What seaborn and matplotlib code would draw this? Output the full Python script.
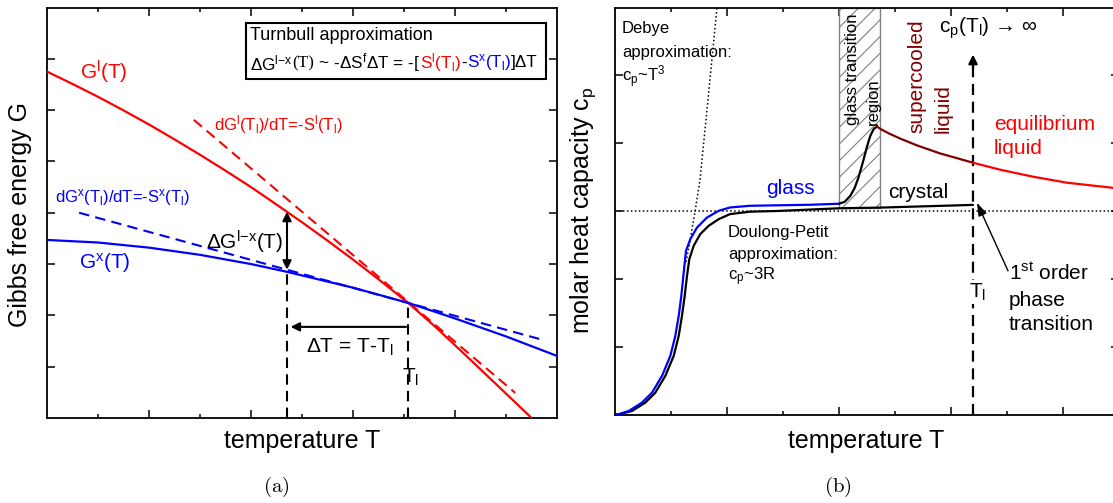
import matplotlib
matplotlib.use("Agg")
import matplotlib.pyplot as plt
import seaborn as sns
from matplotlib.patches import Rectangle

# ---------------- data: panel (a) Gibbs free energy ----------------
T_a_liq = [0, 0.5, 1, 1.5, 2, 2.5, 3, 3.5, 4, 4.5, 5, 5.5, 6, 6.5, 7.08, 7.6, 8.1, 8.8, 9.55]
G_liq = [6.75, 6.51, 6.26, 5.995, 5.72, 5.43, 5.13, 4.82, 4.50, 4.16, 3.815, 3.457, 3.087, 2.704,
         2.244, 1.79, 1.325, 0.665, -0.045]
T_a_cry = [0, 1, 2, 3, 4, 4.7, 6, 7.08, 8, 9, 10]
G_cry = [3.47, 3.42, 3.32, 3.18, 3.00, 2.85, 2.54, 2.244, 1.94, 1.59, 1.21]
T_tan_liq = [2.88, 9.18]
G_tan_liq = [5.81, 0.49]
T_tan_cry = [0.63, 9.73]
G_tan_cry = [4.00, 1.52]
T_under, G_under_liq, G_under_cry = 4.706, 4.02, 2.89
T_melt_a, G_melt = 7.08, 2.244
G_dT_arrow = 1.776

# ---------------- data: panel (b) heat capacity ----------------
T_cry = [0, 0.066, 0.304, 0.541, 0.72, 0.898, 1.048, 1.138, 1.196, 1.245, 1.286, 1.327, 1.405,
         1.523, 1.673, 1.852, 2.054, 2.411, 2.893, 4.0, 4.73, 6.393]
cp_cry = [0, 0.003, 0.052, 0.175, 0.322, 0.568, 0.864, 1.159, 1.454, 1.749, 2.044, 2.29, 2.487,
          2.66, 2.782, 2.88, 2.954, 2.99, 3.0, 3.04, 3.05, 3.09]
T_gla = [0, 0.066, 0.245, 0.482, 0.661, 0.839, 0.988, 1.077, 1.138, 1.184, 1.227, 1.268, 1.345,
         1.464, 1.643, 1.852, 2.054, 2.411, 3.482, 4.0]
cp_gla = [0, 0.003, 0.052, 0.175, 0.322, 0.568, 0.864, 1.159, 1.454, 1.749, 2.093, 2.413, 2.585,
          2.756, 2.904, 3.003, 3.052, 3.077, 3.092, 3.107]
T_gt = [4.0, 4.1, 4.2, 4.28, 4.35, 4.43, 4.5, 4.56, 4.62, 4.679]
cp_gt = [3.107, 3.135, 3.22, 3.34, 3.50, 3.73, 3.95, 4.11, 4.21, 4.244]
T_sc = [4.679, 4.75, 4.9, 5.1, 5.4, 5.8, 6.393]
cp_sc = [4.244, 4.205, 4.14, 4.065, 3.965, 3.85, 3.712]
T_eq = [6.393, 6.875, 7.464, 8.071, 8.875, 9.0]
cp_eq = [3.712, 3.609, 3.506, 3.417, 3.343, 3.33]
T_debye = [1.268, 1.321, 1.429, 1.518, 1.661, 1.821, 1.84]
cp_debye = [2.25, 2.472, 2.989, 3.461, 4.642, 6.0, 6.2]
cp_dp = 3.0
T_glass_lo, T_glass_hi, cp_glass_bottom = 4.0, 4.73, 3.05
T_melt_b, cp_arrow_top = 6.393, 5.306
arrow_1st = [(7.018, 2.118), (6.464, 3.122)]

# ---------------- style ----------------
sns.set_theme(style="ticks")
plt.rcParams["font.family"] = ["Liberation Sans", "DejaVu Sans"]
plt.rcParams["mathtext.fontset"] = "custom"
plt.rcParams["mathtext.rm"] = "Liberation Sans"
plt.rcParams["mathtext.it"] = "Liberation Sans:italic"
plt.rcParams["mathtext.bf"] = "Liberation Sans:bold"
plt.rcParams["hatch.color"] = "#9a9a9a"
plt.rcParams["hatch.linewidth"] = 0.8
plt.rcParams["axes.unicode_minus"] = False
plt.rcParams["text.color"] = "black"

W, H = 1113, 503
fig = plt.figure(figsize=(W / 100, H / 100), dpi=100)
fig.patch.set_facecolor("white")


def rect(l, t, r, b):
    return [l / W, 1 - b / H, (r - l) / W, (b - t) / H]


ax1 = fig.add_axes(rect(47, 7.5, 557, 418))
ax2 = fig.add_axes(rect(615, 7.5, 1119, 414.5))

RED, BLUE, DRED = "#ff0000", "#0000ff", "#800000"
DASH = (5, 3)


def curve(ax, x, y, color, lw=1.6, dashes=None, z=3):
    sns.lineplot(x=x, y=y, ax=ax, color=color, lw=lw, sort=False, estimator=None, zorder=z)
    ln = ax.get_lines()[-1]
    if dashes is not None:
        ln.set_dashes(dashes)
    return ln


def ftext(px, py, s, **kw):
    kw.setdefault("ha", "left")
    kw.setdefault("va", "center")
    kw.setdefault("color", "black")
    return fig.text(px / W, 1 - py / H, s, **kw)


for ax in (ax1, ax2):
    for sp in ax.spines.values():
        sp.set_linewidth(1.3)
        sp.set_color("black")
    ax.tick_params(which="both", direction="in", top=True, right=True,
                   labelbottom=False, labelleft=False, color="black")
    ax.tick_params(which="major", length=6, width=1.1)
    ax.tick_params(which="minor", length=3.2, width=1.1)
    ax.set_facecolor("white")

# ---------------- panel (a) ----------------
ax1.set_xlim(0, 10)
ax1.set_ylim(0, 8)
ax1.set_xticks([2, 4, 6, 8])
ax1.set_xticks([1, 3, 5, 7, 9], minor=True)
ax1.set_yticks([1, 2, 3, 4, 5, 6, 7])

curve(ax1, T_tan_liq, G_tan_liq, RED, lw=1.5, dashes=DASH, z=2)
curve(ax1, T_tan_cry, G_tan_cry, BLUE, lw=1.5, dashes=DASH, z=2)
curve(ax1, T_a_liq, G_liq, RED, lw=1.6)
curve(ax1, T_a_cry, G_cry, BLUE, lw=1.6)
curve(ax1, [T_under, T_under], [0, G_under_cry], "black", lw=1.5, dashes=DASH)
curve(ax1, [T_melt_a, T_melt_a], [0, G_melt], "black", lw=1.5, dashes=DASH)
ax1.annotate("", xy=(T_under, G_under_liq), xytext=(T_under, G_under_cry),
             arrowprops=dict(arrowstyle="<|-|>", color="black", lw=1.5,
                             shrinkA=0, shrinkB=0, mutation_scale=13))
ax1.annotate("", xy=(T_under + 0.07, G_dT_arrow), xytext=(T_melt_a - 0.04, G_dT_arrow),
             arrowprops=dict(arrowstyle="-|>", color="black", lw=1.5,
                             shrinkA=0, shrinkB=0, mutation_scale=13))
ax1.set_xlabel("")
ax1.set_ylabel("")
ax1.text(0.5, -0.056, "temperature T", transform=ax1.transAxes, fontsize=18,
         ha="center", va="center", clip_on=False, color="black")
ax1.text(-0.052, 0.495, "Gibbs free energy G", transform=ax1.transAxes, fontsize=18,
         ha="center", va="center", rotation=90, clip_on=False, color="black")

ftext(80, 72, "G$^\\mathregular{l}$(T)", color=RED, fontsize=15)
ftext(79, 263, "G$^\\mathregular{x}$(T)", color=BLUE, fontsize=15)
ftext(214, 125, "dG$^\\mathregular{l}$(T$_\\mathregular{l}$)/dT=-S$^\\mathregular{l}$(T$_\\mathregular{l}$)",
      color=RED, fontsize=12)
ftext(55, 198, "dG$^\\mathregular{x}$(T$_\\mathregular{l}$)/dT=-S$^\\mathregular{x}$(T$_\\mathregular{l}$)",
      color=BLUE, fontsize=12)
ftext(283, 242, "ΔG$^\\mathregular{l{-}x}$(T)", fontsize=15, ha="right")
ftext(306, 347, "ΔT = T-T$_\\mathregular{l}$", fontsize=15)
ftext(402, 377, "T$_\\mathregular{l}$", fontsize=15)

# Turnbull box
fig.patches.append(Rectangle((246 / W, 1 - 79 / H), 300 / W, 56 / H, transform=fig.transFigure,
                             facecolor="white", edgecolor="black", lw=1.5, zorder=5))
ftext(250, 36, "Turnbull approximation", fontsize=13, zorder=6)
renderer = fig.canvas.get_renderer()
parts = [
    ("ΔG$^\\mathregular{l{-}x}$", "black", None),
    ("(T)", "black", "Liberation Serif"),
    (" ~ -ΔS$^\\mathregular{f}$ΔT = -[", "black", None),
    ("S$^\\mathregular{l}$(T$_\\mathregular{l}$)", RED, None),
    ("-", "black", None),
    ("S$^\\mathregular{x}$(T$_\\mathregular{l}$)", BLUE, None),
    ("]ΔT", "black", None),
]
xcur = 250
for s, c, fam in parts:
    kw = dict(fontsize=12.3, color=c, zorder=6)
    if fam:
        kw["family"] = fam
    t = ftext(xcur, 63, s, **kw)
    xcur += t.get_window_extent(renderer=renderer).width

# ---------------- panel (b) ----------------
ax2.set_xlim(0, 9)
ax2.set_ylim(0, 6)
ax2.set_xticks([2, 4, 6, 8])
ax2.set_xticks([1, 3, 5, 7], minor=True)
ax2.set_yticks([1, 2, 3, 4, 5])

ax2.axhline(cp_dp, color="black", lw=1.1, dashes=(1, 1.6), zorder=2)
curve(ax2, T_debye, cp_debye, "black", lw=1.1, dashes=(1, 1.6), z=2)
ax2.add_patch(Rectangle((T_glass_lo, cp_glass_bottom), T_glass_hi - T_glass_lo, 6 - cp_glass_bottom,
                        facecolor="white", edgecolor="#808080", hatch="//", lw=1.0, zorder=1))
curve(ax2, T_cry, cp_cry, "black", lw=1.6, z=3)
curve(ax2, T_gla, cp_gla, BLUE, lw=1.6, z=4)
curve(ax2, T_gt, cp_gt, "black", lw=1.6, z=4)
curve(ax2, T_sc, cp_sc, DRED, lw=1.6, z=4)
curve(ax2, T_eq, cp_eq, RED, lw=1.6, z=4)
curve(ax2, [T_melt_b, T_melt_b], [0, cp_arrow_top - 0.18], "black", lw=1.6, dashes=DASH, z=3)
ax2.annotate("", xy=(T_melt_b, cp_arrow_top), xytext=(T_melt_b, cp_arrow_top - 0.2),
             arrowprops=dict(arrowstyle="-|>", color="black", lw=1.6,
                             shrinkA=0, shrinkB=0, mutation_scale=13))
ax2.annotate("", xy=arrow_1st[1], xytext=arrow_1st[0],
             arrowprops=dict(arrowstyle="-|>,head_length=0.6,head_width=0.2", color="black", lw=1.0,
                             shrinkA=0, shrinkB=0, mutation_scale=13))
ax2.set_xlabel("")
ax2.set_ylabel("")
ax2.text(0.498, -0.065, "temperature T", transform=ax2.transAxes, fontsize=18,
         ha="center", va="center", clip_on=False, color="black")
ax2.text(-0.0635, 0.503, "molar heat capacity c$_\\mathregular{p}$", transform=ax2.transAxes,
         fontsize=18, ha="center", va="center", rotation=90, clip_on=False, color="black")

for y, s in zip([28, 52, 77], ["Debye", "approximation:", "c$_\\mathregular{p}$~T$^\\mathregular{3}$"]):
    ftext(622, y, s, fontsize=12)
for y, s in zip([233, 255, 277], ["Doulong-Petit", "approximation:", "c$_\\mathregular{p}$~3R"]):
    ftext(728, y, s, fontsize=12)
ftext(790, 188, "glass", color=BLUE, fontsize=15, ha="center")
ftext(918, 192, "crystal", fontsize=15, ha="center")
ftext(852, 125, "glass transition", fontsize=12, rotation=90, ha="center", va="bottom")
ftext(873, 125, "region", fontsize=12, rotation=90, ha="center", va="bottom")
ftext(917, 133, "supercooled", color=DRED, fontsize=15, rotation=90, ha="center", va="bottom")
ftext(943, 133, "liquid", color=DRED, fontsize=15, rotation=90, ha="center", va="bottom")
ftext(994, 124, "equilibrium", color=RED, fontsize=15)
ftext(994, 148, "liquid", color=RED, fontsize=15)
ftext(939, 28, "c$_\\mathregular{p}$(T$_\\mathregular{l}$) → ∞", fontsize=15)
ftext(969, 292, "T$_\\mathregular{l}$", fontsize=15,
      bbox=dict(facecolor="white", edgecolor="none", pad=1), zorder=6)
ftext(1009, 273, "1$^\\mathregular{st}$ order", fontsize=15)
ftext(1009, 300, "phase", fontsize=15)
ftext(1009, 325, "transition", fontsize=15)

ftext(276, 487, "$\\mathrm{(a)}$", fontsize=15, ha="center", math_fontfamily="cm")
ftext(838, 487, "$\\mathrm{(b)}$", fontsize=15, ha="center", math_fontfamily="cm")

fig.savefig("out.png", dpi=100, facecolor="white")
